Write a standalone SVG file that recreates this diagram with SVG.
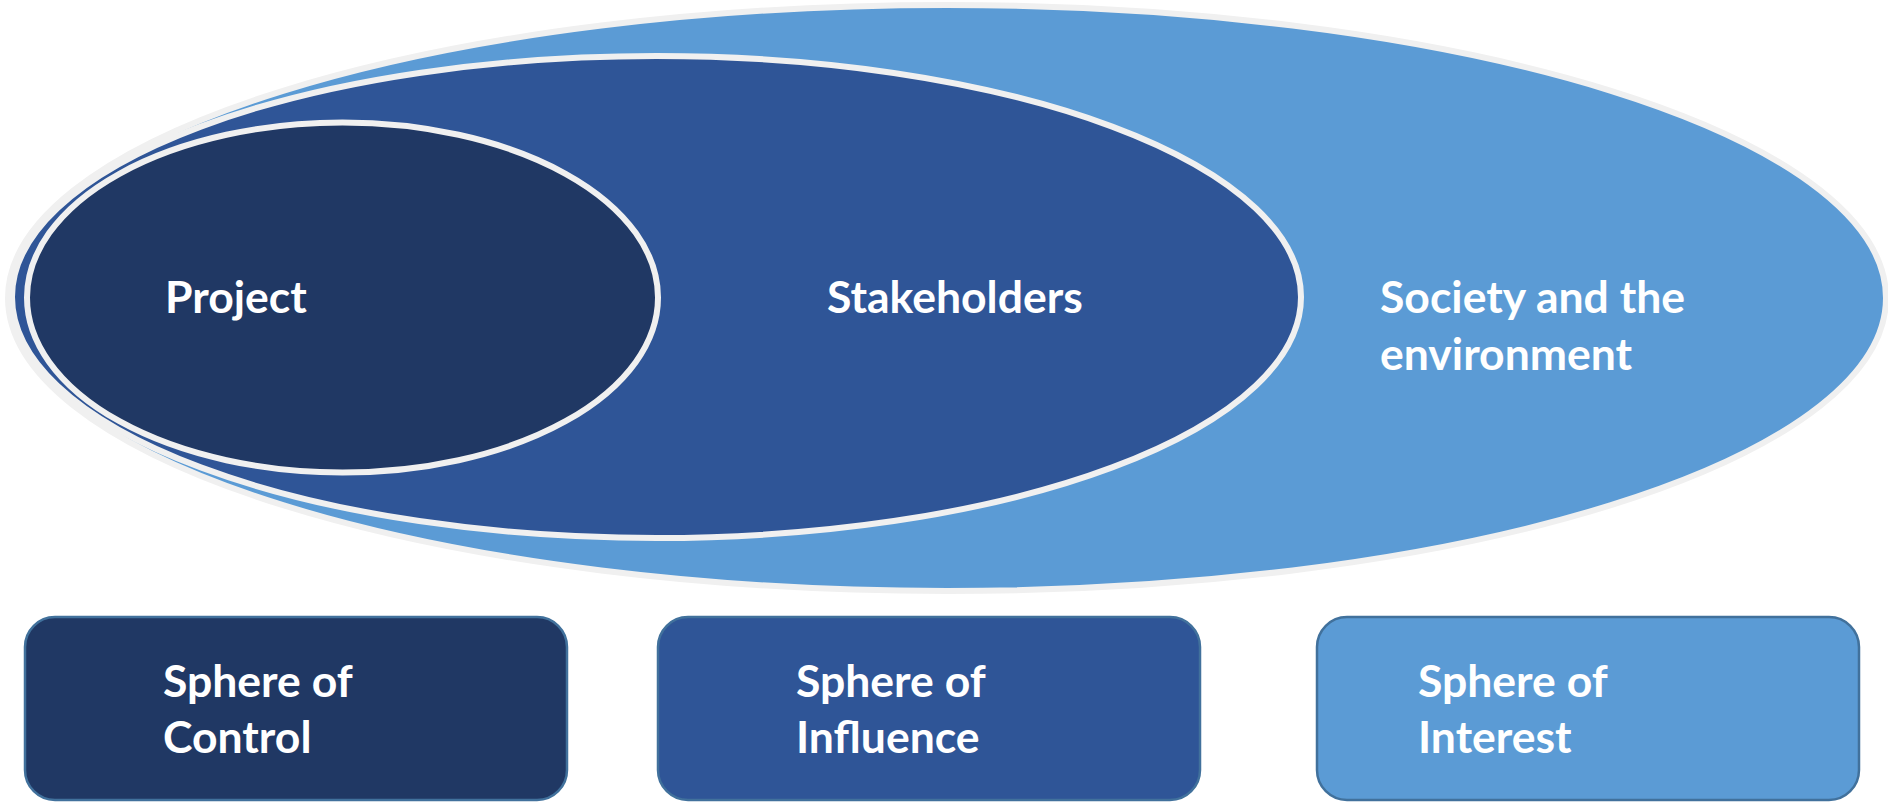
<svg xmlns="http://www.w3.org/2000/svg" width="1888" height="802" viewBox="0 0 1888 802">
<style>
.lbl{font-family:Lato,"Open Sans","Liberation Sans",sans-serif;font-weight:700;font-size:44.5px;fill:#ffffff}
.ring{stroke:#f0f0f0;stroke-width:6}
.box{stroke:#41719c;stroke-width:2.5}
</style>
<rect width="1888" height="802" fill="#ffffff"/>
<g id="society">
<ellipse class="ring" cx="947" cy="298" rx="939" ry="293" fill="#5b9bd5"/>
<text class="lbl" x="1380" y="313">Society and the</text>
<text class="lbl" x="1380" y="370">environment</text>
</g>
<g id="stakeholders">
<ellipse class="ring" cx="656.5" cy="297" rx="644.5" ry="241" fill="#2f5597"/>
<text class="lbl" x="827" y="313">Stakeholders</text>
</g>
<g id="project">
<ellipse class="ring" cx="342.5" cy="297.5" rx="315.5" ry="175" fill="#203864"/>
<text class="lbl" x="165" y="313">Project</text>
</g>
<g id="sphere-control">
<rect class="box" x="25" y="617" width="542" height="183" rx="30" fill="#203864"/>
<text class="lbl" x="163" y="697">Sphere of</text>
<text class="lbl" x="163" y="753">Control</text>
</g>
<g id="sphere-influence">
<rect class="box" x="658" y="617" width="542" height="183" rx="30" fill="#2f5597"/>
<text class="lbl" x="796" y="697">Sphere of</text>
<text class="lbl" x="796" y="753">Influence</text>
</g>
<g id="sphere-interest">
<rect class="box" x="1317" y="617" width="542" height="183" rx="30" fill="#5b9bd5"/>
<text class="lbl" x="1418" y="697">Sphere of</text>
<text class="lbl" x="1418" y="753">Interest</text>
</g>
<g id="connectors"/>
</svg>
